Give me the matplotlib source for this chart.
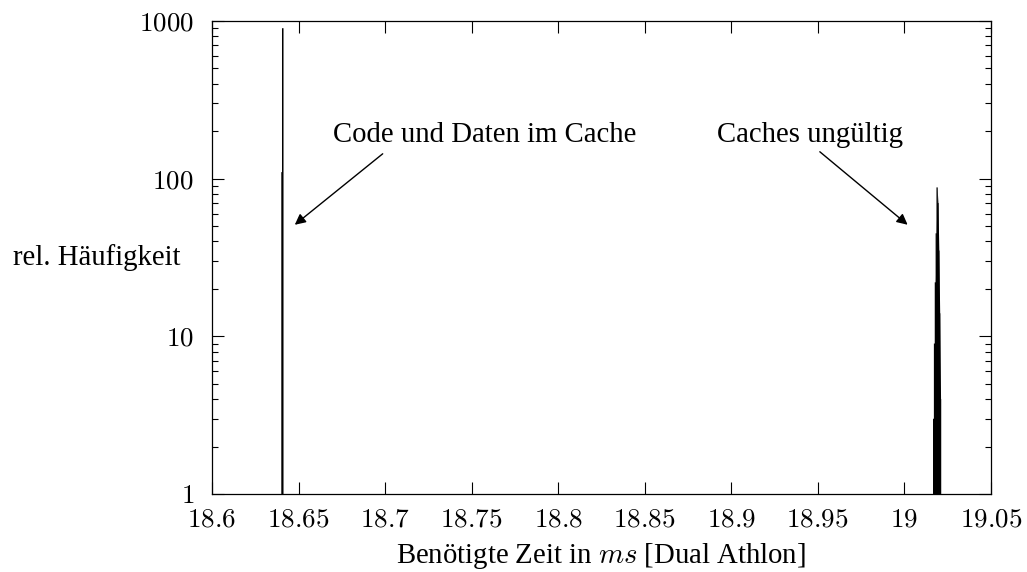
import matplotlib
matplotlib.use('Agg')
import matplotlib.pyplot as plt
from matplotlib.ticker import FixedLocator, FuncFormatter, LogLocator, NullFormatter

plt.rcParams['font.family'] = ['Liberation Serif', 'DejaVu Serif']
plt.rcParams['mathtext.fontset'] = 'cm'

# measured times (ms) and relative frequencies
cached_times = [18.6405, 18.6409]
cached_freq = [110, 900]
invalid_times = [19.0170, 19.0175, 19.0180, 19.0185, 19.0190, 19.0195, 19.0200, 19.0205, 19.0210]
invalid_freq = [3, 9, 22, 45, 88, 70, 35, 14, 4]

x_ticks = [18.6, 18.65, 18.7, 18.75, 18.8, 18.85, 18.9, 18.95, 19.0, 19.05]
x_tick_labels = ['18.6', '18.65', '18.7', '18.75', '18.8', '18.85', '18.9', '18.95', '19', '19.05']
y_ticks = [1, 10, 100, 1000]
y_tick_labels = ['1', '10', '100', '1000']

fig = plt.figure(figsize=(10.27, 5.72), dpi=100)
ax = fig.add_axes([0.2064, 0.1364, 0.7583, 0.8269])

ax.vlines(cached_times, 1, cached_freq, color='black', linewidth=1.1, snap=False)
ax.fill_between(invalid_times, 1, invalid_freq, color='black', linewidth=0)
ax.vlines(invalid_times, 1, invalid_freq, color='black', linewidth=0.9, snap=False)

ax.set_yscale('log')
ax.set_xlim(18.6, 19.05)
ax.set_ylim(1, 1000)

ax.xaxis.set_major_locator(FixedLocator(x_ticks))
ax.xaxis.set_major_formatter(FuncFormatter(lambda v, p: '$' + x_tick_labels[p] + '$' if p is not None and p < len(x_tick_labels) else ''))
ax.yaxis.set_major_locator(FixedLocator(y_ticks))
ax.yaxis.set_major_formatter(FuncFormatter(lambda v, p: '$' + y_tick_labels[p] + '$' if p is not None and p < len(y_tick_labels) else ''))
ax.yaxis.set_minor_locator(LogLocator(base=10, subs=[2, 3, 4, 5, 6, 7, 8, 9]))
ax.yaxis.set_minor_formatter(NullFormatter())

ax.tick_params(which='both', direction='in', top=True, right=True, width=0.8, labelsize=19.5)
ax.tick_params(which='major', length=8.5)
ax.tick_params(axis='x', which='major', pad=10)
ax.tick_params(axis='y', which='major', pad=13)
ax.tick_params(which='minor', length=4.5)
for s in ax.spines.values():
    s.set_linewidth(0.9)

ax.set_xlabel('Benötigte Zeit in $ms$ [Dual Athlon]', fontsize=20.7, labelpad=6)
fig.text(0.094, 0.549, 'rel. Häufigkeit', fontsize=20.7, ha='center', va='center')

arrow = dict(arrowstyle='-|>', color='black', lw=1.0, mutation_scale=16)
ax.annotate('', xy=(18.6466, 49.7), xytext=(18.6999, 147.5), arrowprops=arrow)
ax.annotate('', xy=(19.0032, 49.7), xytext=(18.950, 152), arrowprops=arrow)
ax.text(18.7577, 190, 'Code und Daten im Cache', fontsize=20.7, ha='center', va='center')
ax.text(18.9455, 190, 'Caches ungültig', fontsize=20.7, ha='center', va='center')

fig.savefig('out.png', dpi=100)
